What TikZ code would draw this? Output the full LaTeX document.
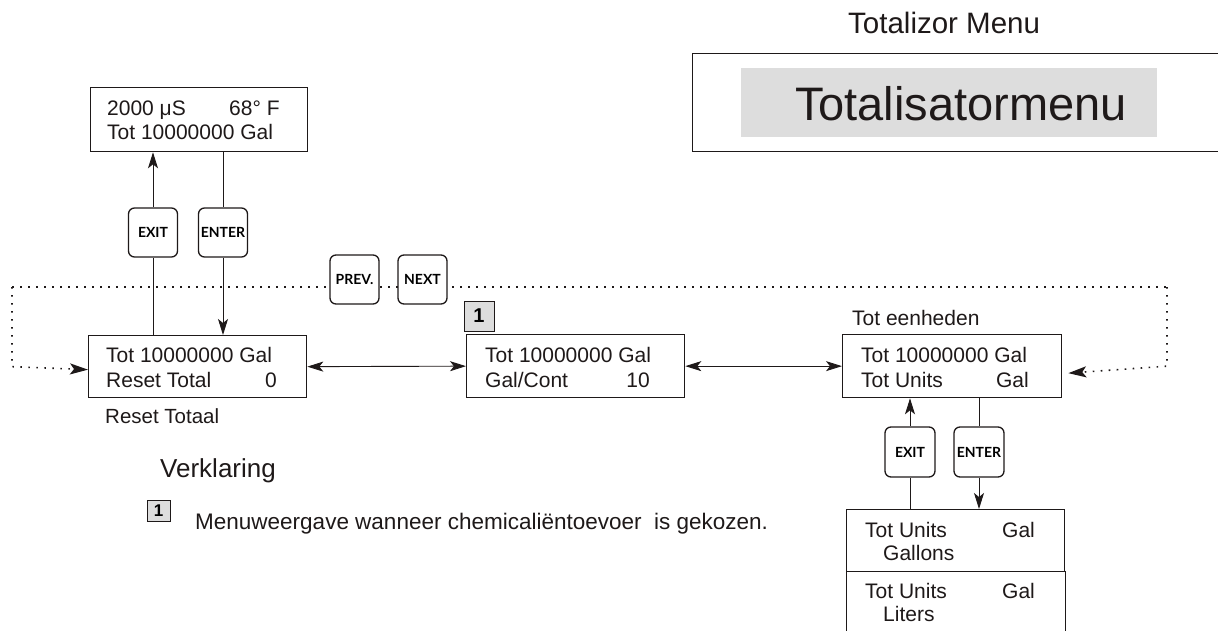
\documentclass[tikz,border=0pt]{standalone}
\usepackage{fontspec}
\setmainfont{Liberation Sans}
\newfontfamily\btnfont{Lato}
\usetikzlibrary{arrows.meta,backgrounds}
\definecolor{menugray}{RGB}{221,221,221}
\definecolor{ink}{RGB}{30,25,25}
\begin{document}
\begin{tikzpicture}[x=1pt,y=-1pt,
  box/.style={draw=ink, line width=1.3pt, fill=white, anchor=north west, inner sep=0pt},
  key/.style={draw=ink, line width=1.3pt, rounded corners=6pt, fill=white, minimum width=49pt, minimum height=49pt, inner sep=0pt, font=\btnfont\bfseries\fontsize{14}{14}\selectfont},
  txt/.style={anchor=base west, inner sep=0pt, text=ink, font=\fontsize{21}{24}\selectfont},
  txtr/.style={txt, anchor=base east},
  lbl/.style={txt, font=\fontsize{20.5}{24}\selectfont},
  tip/.style={Stealth[length=16pt,width=10pt,inset=4pt]},
  conn/.style={draw=ink, line width=0.9pt, -{Stealth[length=16pt,width=10pt,inset=4pt]}},
  plain/.style={draw=ink, line width=0.9pt},
  biconn/.style={draw=ink, line width=0.9pt, {Stealth[length=16pt,width=10pt,inset=4pt]}-{Stealth[length=16pt,width=10pt,inset=4pt]}},
  dotline/.style={draw=ink, line width=1.6pt, dash pattern=on 1.6pt off 6.4pt},
  badge/.style={draw=ink, line width=0.8pt, fill=menugray, inner sep=0pt, font=\bfseries\fontsize{20}{20}\selectfont}
]
\useasboundingbox (0,0) rectangle (1218,631);
\clip (0,0) rectangle (1218,631);

% title and menu box
\node[txt, font=\fontsize{29.5}{32}\selectfont] (title) at (848,34) {Totalizor Menu};
\node[box, minimum width=560pt, minimum height=98pt] (mbox) at (692,53) {};
\node[anchor=north west, fill=menugray, minimum width=416pt, minimum height=69pt, inner sep=0pt] (mgray) at (741,68) {};
\node[anchor=base, inner sep=0pt, text=ink, font=\fontsize{47}{50}\selectfont] (mtext) at (961,121) {Totalisatormenu};

% top display
\node[box, minimum width=217pt, minimum height=64pt] (top) at (90,87) {};
\node[txt] (t1a) at (107,116) {2000 μS};
\node[txt] (t1b) at (229,116) {68° F};
\node[txt] (t2) at (107,140) {Tot 10000000 Gal};

% main row
\node[box, minimum width=218pt, minimum height=62pt] (b1) at (88,335) {};
\node[txt] (b1a) at (106,362) {Tot 10000000 Gal};
\node[txt] (b1b) at (106,387) {Reset Total};
\node[txtr] (b1c) at (277,387) {0};
\node[lbl] (b1l) at (105,423) {Reset Totaal};

\node[box, minimum width=218pt, minimum height=63pt] (b2) at (466,334) {};
\node[txt] (b2a) at (485,362) {Tot 10000000 Gal};
\node[txt] (b2b) at (485,387) {Gal/Cont};
\node[txtr] (b2c) at (650,387) {10};
\node[badge, minimum width=30pt, minimum height=30pt] (bd1) at (479,316) {1};

\node[box, minimum width=219pt, minimum height=63pt] (b3) at (842,334) {};
\node[txt] (b3l) at (852,325) {Tot eenheden};
\node[txt] (b3a) at (861,362) {Tot 10000000 Gal};
\node[txt] (b3b) at (861,387) {Tot Units};
\node[txtr] (b3c) at (1029,387) {Gal};

% unit choices
\node[box, minimum width=218pt, minimum height=62pt] (gal) at (846,509) {};
\node[txt] (gala) at (865,537) {Tot Units};
\node[txt] (galb) at (1002,537) {Gal};
\node[txt] (galc) at (883,560) {Gallons};
\node[box, minimum width=219pt, minimum height=75pt] (lit) at (846,571) {};
\node[txt] (lita) at (865,598) {Tot Units};
\node[txt] (litb) at (1002,598) {Gal};
\node[txt] (litc) at (883,621) {Liters};

% keys
\node[key] (ex) at (153,232.5) {EXIT};
\node[key] (en) at (223,232.5) {ENTER};
\node[key] (pv) at (354.5,279.5) {PREV.};
\node[key] (nx) at (422.5,279.5) {NEXT};
\node[key, minimum width=50pt, minimum height=50pt] (ex2) at (910,452) {EXIT};
\node[key, minimum width=50pt, minimum height=50pt] (en2) at (979,452) {ENTER};

% legend
\node[txt, font=\fontsize{26}{30}\selectfont] (leg) at (160,477) {Verklaring};
\node[badge, minimum width=23pt, minimum height=21pt, font=\bfseries\fontsize{17}{17}\selectfont] (bd2) at (158.5,511) {1};
\node[txt, font=\fontsize{22.5}{26}\selectfont] (legt) at (195,529) {Menuweergave wanneer chemicaliëntoevoer\ \ is gekozen.};

% connectors
\coordinate (dl) at (12,287);
\coordinate (dr) at (1167,287);
\begin{scope}[on background layer]
  \draw[plain] (b1.north -| ex) -- (ex.south);
  \draw[conn] (ex.north) -- (top.south -| ex);
  \draw[plain] (top.south -| en) -- (en.north);
  \draw[conn] (en.south) -- (b1.north -| en);
  \draw[dotline] (dl) -- (dr);
  \draw[dotline, -{Stealth[length=18pt,width=11pt,inset=4pt]}] (dl) -- (dl |- b1.west) -- ([yshift=-3pt]b1.west);
  \draw[dotline, -{Stealth[length=18pt,width=11pt,inset=4pt]}] (dr) -- (dr |- b3.east) -- ([xshift=6pt,yshift=-7pt]b3.east);
  \draw[biconn] (b1.east) -- (b2.west);
  \draw[biconn] (b2.east) -- (b3.west);
  \draw[plain] (gal.north -| ex2) -- (ex2.south);
  \draw[conn] (ex2.north) -- (b3.south -| ex2);
  \draw[plain] (b3.south -| en2) -- (en2.north);
  \draw[conn] (en2.south) -- (gal.north -| en2);
\end{scope}
\end{tikzpicture}
\end{document}
